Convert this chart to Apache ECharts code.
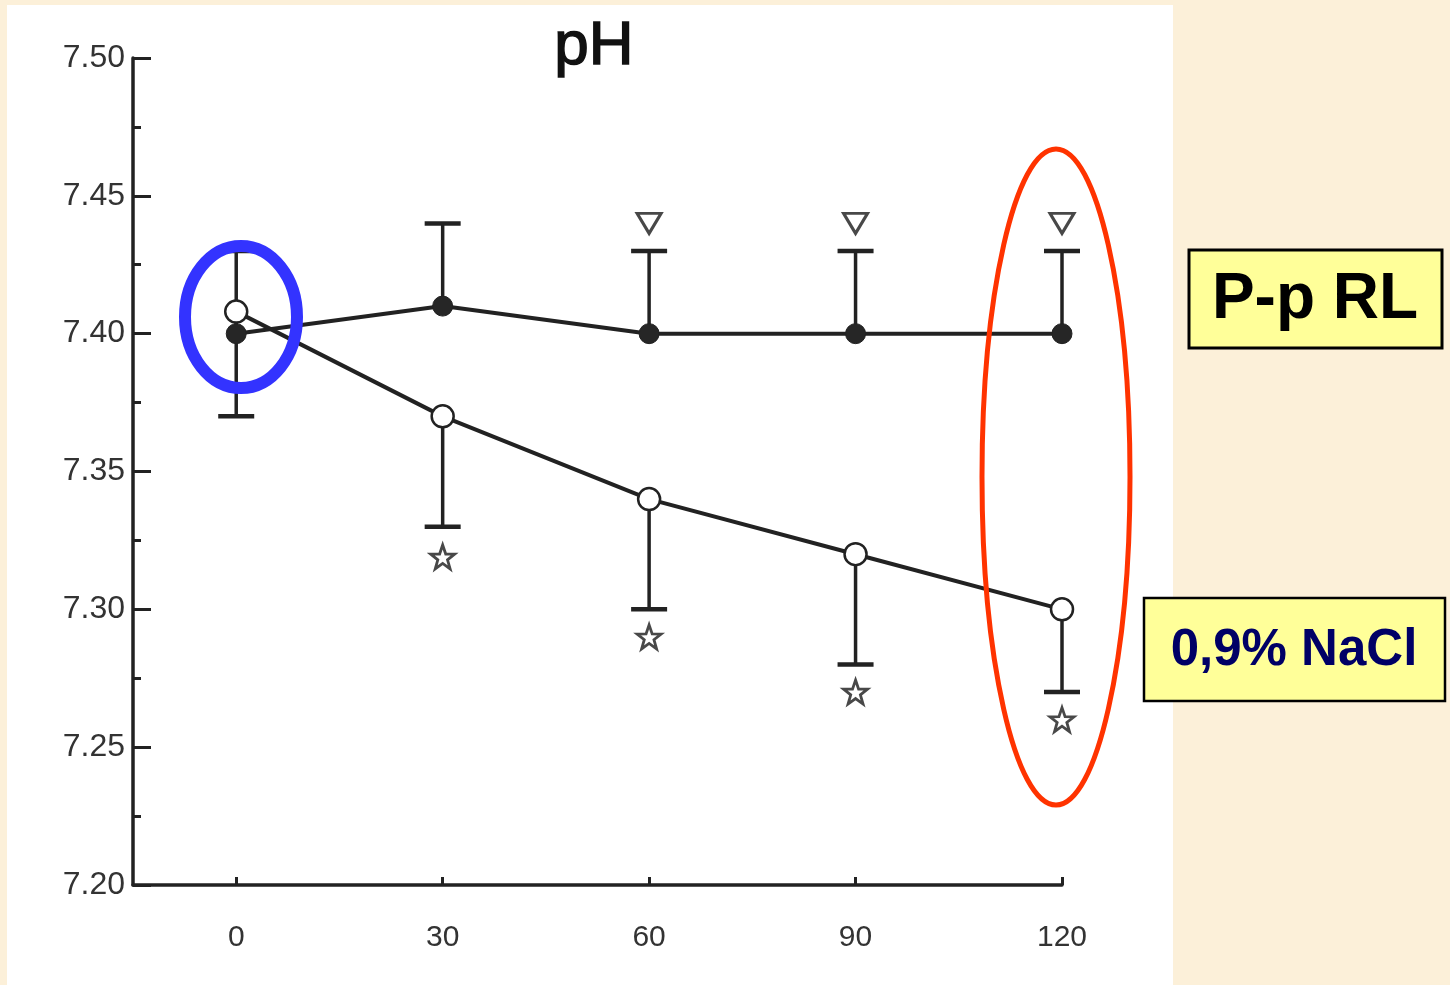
<!DOCTYPE html>
<html>
<head>
<meta charset="utf-8">
<script src="https://cdn.jsdelivr.net/npm/echarts@6/dist/echarts.min.js"></script>
<style>
html,body{margin:0;padding:0;background:#fcf0d9;}
#chart{width:1450px;height:985px;}
</style>
</head>
<body>
<div id="chart"></div>
<script>
// Data
const timePoints   = [0, 30, 60, 90, 120];
const rlMean       = [7.40, 7.41, 7.40, 7.40, 7.40];
const rlUpper      = [7.43, 7.44, 7.43, 7.43, 7.43];
const naclMean     = [7.408, 7.37, 7.34, 7.32, 7.30];
const naclLower    = [7.37, 7.33, 7.30, 7.28, 7.27];
const triangleX    = [60, 90, 120];
const triangleY    = [7.44, 7.44, 7.44];
const starX        = [30, 60, 90, 120];
const starY        = [7.319, 7.290, 7.270, 7.260];
const xTickValues  = [0, 30, 60, 90, 120];
const titleText    = 'pH';
const labelRL      = 'P-p RL';
const labelNaCl    = '0,9% NaCl';

const INK = '#222222';
const chartFont = '"Liberation Sans", Arial, sans-serif';

const chart = echarts.init(document.getElementById('chart'));

function errorBar(params, api) {
  const x = api.value(0);
  const p0 = api.coord([x, api.value(1)]);
  const p1 = api.coord([x, api.value(2)]);
  const hw = 18;
  return {
    type: 'group',
    children: [
      {type: 'line', shape: {x1: p0[0], y1: p0[1], x2: p1[0], y2: p1[1]}, style: {stroke: INK, lineWidth: 3.5}},
      {type: 'line', shape: {x1: p1[0] - hw, y1: p1[1], x2: p1[0] + hw, y2: p1[1]}, style: {stroke: INK, lineWidth: 4.5}}
    ]
  };
}

const starPath = 'path://M12,0 L14.9,8.1 L23.4,8.2 L16.6,13.3 L19.1,21.5 L12,16.6 L4.9,21.5 L7.4,13.3 L0.6,8.2 L9.1,8.1 Z';
const triPath = 'path://M0,0 L24,0 L12,20 Z';

chart.setOption({
  backgroundColor: '#fcf0d9',
  animation: false,
  grid: {left: 133, right: 388, top: 58, bottom: 100},
  xAxis: {
    type: 'value', min: -15, max: 120,
    axisLine: {show: true, onZero: false, lineStyle: {color: INK, width: 3.5}},
    axisTick: {show: true, inside: true, length: 8, customValues: xTickValues, lineStyle: {color: INK, width: 3}},
    axisLabel: {show: true, customValues: xTickValues, fontSize: 30, color: '#333', margin: 38, fontFamily: chartFont},
    splitLine: {show: false}
  },
  yAxis: {
    type: 'value', min: 7.2, max: 7.5, interval: 0.05,
    axisLine: {show: true, onZero: false, lineStyle: {color: INK, width: 3.5}},
    axisTick: {show: true, inside: true, length: 18, lineStyle: {color: INK, width: 3}},
    minorTick: {show: true, splitNumber: 2, length: 8, lineStyle: {color: INK, width: 3}},
    axisLabel: {fontSize: 32, color: '#333', margin: 8, fontFamily: chartFont,
      formatter: v => v.toFixed(2)},
    splitLine: {show: false}
  },
  graphic: [
    {type: 'rect', z: -100, shape: {x: 7, y: 5, width: 1166, height: 985}, style: {fill: '#ffffff'}},
    {type: 'text', z: 10, x: 594, y: 47, style: {text: titleText, fill: '#111111', font: 'normal 62px ' + chartFont, textAlign: 'center', textVerticalAlign: 'middle', stroke: '#111111', lineWidth: 1.5}},
    {type: 'ellipse', z: 100, shape: {cx: 241, cy: 317, rx: 56, ry: 71}, style: {fill: 'none', stroke: '#3333ff', lineWidth: 12}},
    {type: 'ellipse', z: 100, shape: {cx: 1056, cy: 477, rx: 74, ry: 328}, style: {fill: 'none', stroke: '#ff3300', lineWidth: 5}},
    {type: 'rect', z: 100, shape: {x: 1189, y: 250, width: 253, height: 98}, style: {fill: '#ffff99', stroke: '#000', lineWidth: 3}},
    {type: 'text', z: 101, x: 1315, y: 300, style: {text: labelRL, fill: '#000', font: 'bold 64px "Liberation Sans", Arial, sans-serif', textAlign: 'center', textVerticalAlign: 'middle'}},
    {type: 'rect', z: 100, shape: {x: 1144, y: 598, width: 301, height: 103}, style: {fill: '#ffff99', stroke: '#000', lineWidth: 2.5}},
    {type: 'text', z: 101, x: 1294, y: 651, style: {text: labelNaCl, fill: '#000066', font: 'bold 51px "Liberation Sans", Arial, sans-serif', textAlign: 'center', textVerticalAlign: 'middle'}}
  ],
  series: [
    {type: 'custom', renderItem: errorBar, z: 1,
     data: timePoints.map((t, i) => [t, rlMean[i], rlUpper[i]])},
    {type: 'custom', renderItem: errorBar, z: 1,
     data: timePoints.map((t, i) => [t, naclMean[i], naclLower[i]])},
    {type: 'line', z: 3, data: timePoints.map((t, i) => [t, rlMean[i]]),
     symbol: 'circle', symbolSize: 20,
     lineStyle: {color: INK, width: 4},
     itemStyle: {color: '#262626', borderColor: INK, borderWidth: 1}},
    {type: 'line', z: 4, data: timePoints.map((t, i) => [t, naclMean[i]]),
     symbol: 'circle', symbolSize: 22,
     lineStyle: {color: INK, width: 4},
     itemStyle: {color: '#ffffff', borderColor: INK, borderWidth: 2.5}},
    {type: 'scatter', z: 4, data: triangleX.map((t, i) => [t, triangleY[i]]),
     symbol: triPath, symbolSize: [24, 20],
     itemStyle: {color: '#ffffff', borderColor: '#1a1a1a', borderWidth: 3}},
    {type: 'scatter', z: 4, data: starX.map((t, i) => [t, starY[i]]),
     symbol: starPath, symbolSize: 24,
     itemStyle: {color: '#ffffff', borderColor: '#1a1a1a', borderWidth: 2.8}}
  ]
});
</script>
</body>
</html>
